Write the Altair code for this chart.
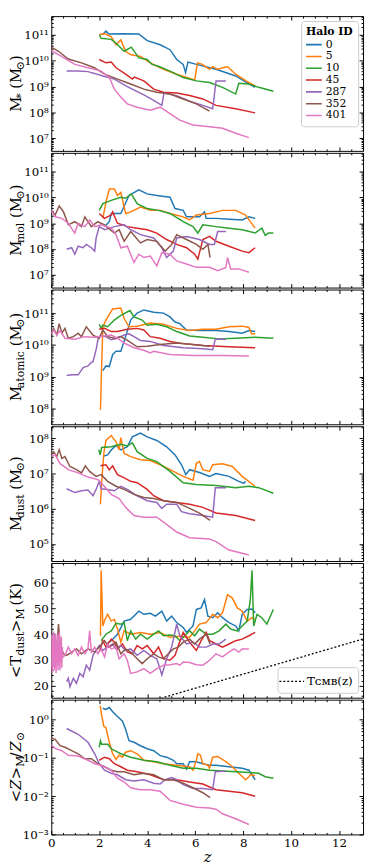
import altair as alt
import pandas as pd

HALOS = ["0", "5", "10", "45", "287", "352", "401"]
COLORS = ["#1f77b4", "#ff7f0e", "#2ca02c", "#d62728", "#9467bd", "#8c564b", "#e377c2"]

# ---- values (log10 for the log panels) ----
MSTAR_LOG = {
    "0": ([2.02, 2.15, 2.28, 2.4, 3.0, 3.65, 4.0, 4.54, 4.95, 5.23, 5.5, 5.6, 5.7, 6.05, 6.87, 7.69, 8.24, 8.5],
          [11.02, 11.03, 11.15, 11.04, 11.05, 11.04, 10.78, 10.62, 10.43, 10.05, 9.86, 9.54, 9.95, 9.86, 9.67, 9.41, 9.1, 8.97]),
    "5": ([2.0, 2.2, 2.5, 2.7, 2.9, 3.1, 3.3, 3.72, 4.13, 4.68, 5.23, 5.98, 6.1, 6.3, 6.6, 6.73, 6.94, 7.15, 7.35, 7.69, 8.1, 8.5],
          [11.0, 11.06, 10.94, 10.62, 10.81, 10.37, 10.24, 10.17, 9.92, 9.67, 9.48, 9.26, 9.92, 9.86, 9.67, 9.77, 9.67, 9.73, 9.77, 9.48, 9.23, 9.03]),
    "10": ([2.0, 2.08, 2.5, 2.7, 3.04, 3.34, 3.65, 4.0, 4.2, 4.47, 4.95, 5.5, 6.05, 6.6, 7.14, 7.69, 7.82, 8.24, 8.65, 9.26],
           [11.0, 10.87, 10.83, 10.68, 10.37, 10.53, 10.11, 10.05, 9.86, 9.79, 9.6, 9.35, 9.22, 9.16, 8.97, 8.71, 9.13, 9.1, 8.97, 8.82]),
    "45": ([2.0, 2.28, 2.5, 2.7, 3.1, 3.38, 3.47, 3.86, 4.27, 4.68, 5.23, 5.77, 6.32, 6.87, 7.69, 8.5],
           [10.05, 9.92, 9.95, 9.73, 9.48, 9.29, 9.37, 9.22, 8.9, 8.78, 8.75, 8.65, 8.52, 8.27, 8.14, 7.98]),
    "287": ([0.64, 1.12, 1.53, 1.8, 2.15, 2.63, 3.17, 3.86, 4.27, 4.61, 4.7, 5.23, 5.77, 6.32, 6.73, 6.87, 7.28],
            [9.6, 9.6, 9.58, 9.51, 9.41, 9.29, 9.0, 8.68, 8.46, 8.27, 8.75, 8.65, 8.43, 8.27, 8.14, 9.22, 9.22]),
    "352": ([0, 0.3, 0.71, 1.26, 1.8, 2.22, 2.76, 3.31, 3.86, 4.4, 4.95, 5.5, 6.05, 6.6],
            [10.53, 10.37, 10.07, 9.92, 9.73, 9.48, 9.29, 9.1, 8.9, 8.78, 8.71, 8.52, 8.33, 8.05]),
    "401": ([0, 0.3, 0.98, 1.53, 2.08, 2.42, 2.63, 2.9, 3.17, 3.58, 4.13, 4.54, 4.95, 5.36, 5.91, 6.6, 7.14, 7.69, 8.24],
            [10.4, 10.24, 9.86, 9.73, 9.6, 9.35, 8.9, 8.59, 8.33, 8.2, 8.08, 8.2, 7.95, 7.7, 7.51, 7.44, 7.38, 7.19, 7.02]),
}

MMOL_LOG = {
    "0": ([2.22, 2.42, 2.5, 2.9, 3.24, 3.65, 4.0, 4.4, 4.95, 5.16, 5.5, 5.64, 6.18, 6.39, 6.46, 6.87, 7.41, 7.96, 8.24, 8.5],
          [8.87, 9.06, 9.38, 9.38, 10.08, 10.3, 10.14, 10.08, 10.01, 9.57, 9.5, 9.25, 9.25, 9.44, 9.19, 9.19, 9.16, 9.13, 9.25, 9.19]),
    "5": ([2.15, 2.28, 2.42, 2.63, 2.76, 2.9, 3.1, 3.31, 3.72, 4.13, 4.54, 4.95, 5.5, 5.77, 6.05, 6.6, 7.14, 7.69, 8.1, 8.5],
          [9.19, 9.82, 10.33, 10.33, 10.08, 10.2, 9.38, 9.44, 9.63, 9.5, 9.5, 9.38, 9.25, 9.13, 9.32, 9.38, 9.5, 9.5, 9.32, 8.81]),
    "10": ([2.0, 2.15, 2.5, 2.9, 3.1, 3.34, 3.58, 4.0, 4.47, 4.95, 5.5, 5.91, 6.11, 6.32, 6.87, 7.41, 7.96, 8.5, 8.78, 8.92, 9.06, 9.26],
           [9.5, 9.76, 9.89, 10.01, 9.97, 10.14, 9.76, 9.57, 9.5, 9.38, 9.06, 8.87, 8.62, 8.94, 8.87, 8.81, 8.75, 8.62, 8.81, 8.53, 8.62, 8.62]),
    "45": ([2.0, 2.22, 2.5, 2.56, 2.76, 3.17, 3.58, 4.0, 4.4, 4.81, 5.23, 5.64, 5.98, 6.11, 6.32, 6.6, 6.87, 7.41, 7.96, 8.24, 8.5],
           [9.38, 9.19, 9.32, 9.44, 9.0, 8.87, 8.81, 8.75, 8.62, 8.37, 8.18, 8.05, 7.8, 7.61, 8.37, 8.49, 8.3, 8.11, 7.92, 7.86, 8.05]),
    "287": ([0.64, 0.85, 0.98, 1.12, 1.33, 1.46, 1.67, 1.81, 1.87, 2.0, 2.22, 2.63, 3.04, 3.31, 3.72, 4.27, 4.61, 4.81, 5.09, 5.23, 5.64, 6.18, 6.6, 6.8, 6.94, 7.28],
            [7.99, 8.05, 7.8, 8.11, 8.05, 8.18, 8.05, 7.92, 8.43, 8.87, 8.75, 8.87, 8.94, 8.75, 8.56, 8.43, 8.05, 7.67, 7.92, 8.43, 8.49, 8.37, 8.18, 8.18, 8.68, 8.68]),
    "352": ([0, 0.16, 0.33, 0.51, 0.71, 0.98, 1.26, 1.4, 1.67, 1.94, 2.22, 2.63, 2.83, 3.04, 3.31, 3.72, 4.0, 4.4, 4.75, 5.02, 5.23, 5.64, 6.05, 6.32, 6.53, 6.62],
            [9.5, 9.32, 9.67, 9.44, 8.94, 9.06, 8.87, 9.25, 8.87, 9.06, 8.94, 8.62, 8.75, 8.3, 8.68, 8.24, 8.37, 8.3, 7.92, 8.18, 8.56, 8.37, 8.18, 7.99, 8.18, 7.67]),
    "401": ([0, 0.16, 0.44, 0.71, 0.98, 1.12, 1.4, 1.6, 1.81, 2.08, 2.5, 2.7, 2.9, 3.17, 3.45, 3.65, 3.86, 4.13, 4.4, 4.61, 4.95, 5.23, 5.64, 6.05, 6.6, 6.94, 7.28, 7.35, 7.48, 7.82, 8.24],
            [9.5, 9.25, 9.19, 9.0, 8.62, 9.0, 8.87, 9.13, 8.87, 8.94, 8.81, 8.56, 8.05, 8.11, 7.48, 7.8, 7.67, 7.73, 7.35, 7.86, 7.8, 7.54, 7.42, 7.29, 7.29, 7.16, 7.29, 7.67, 7.23, 7.23, 7.1]),
}

MATOM_LOG = {
    "0": ([2.15, 2.28, 2.42, 2.56, 2.7, 2.9, 3.1, 3.31, 3.58, 3.86, 4.27, 4.68, 4.95, 5.16, 5.36, 5.64, 6.18, 6.87, 7.41, 7.96, 8.24, 8.5],
          [9.19, 9.34, 9.32, 9.7, 9.8, 9.8, 10.26, 10.78, 11.0, 11.1, 11.03, 11.0, 10.88, 10.72, 10.67, 10.47, 10.45, 10.45, 10.42, 10.37, 10.45, 10.42]),
    "5": ([2.05, 2.1, 2.15, 2.28, 2.56, 2.9, 3.04, 3.24, 3.58, 4.13, 4.68, 5.23, 5.77, 6.32, 6.87, 7.41, 7.96, 8.24, 8.35, 8.5],
          [7.96, 9.34, 10.57, 10.78, 11.13, 11.16, 10.83, 10.57, 10.59, 10.69, 10.65, 10.52, 10.45, 10.49, 10.49, 10.57, 10.59, 10.55, 10.35, 10.35]),
    "10": ([2.0, 2.08, 2.15, 2.35, 2.63, 2.9, 3.28, 3.45, 3.79, 4.0, 4.4, 4.81, 5.23, 5.77, 6.32, 7.0, 7.69, 8.5, 9.26],
           [10.65, 10.52, 10.62, 10.57, 10.78, 10.93, 11.08, 10.88, 10.78, 10.62, 10.65, 10.57, 10.42, 10.28, 10.24, 10.19, 10.21, 10.24, 10.21]),
    "45": ([2.0, 2.22, 2.5, 2.76, 3.17, 3.58, 3.86, 4.13, 4.54, 4.95, 5.5, 6.32, 7.41, 8.5],
           [10.49, 10.52, 10.42, 10.42, 10.49, 10.52, 10.47, 10.26, 10.21, 10.11, 10.04, 9.98, 9.94, 9.91]),
    "287": ([0.64, 0.85, 1.12, 1.33, 1.53, 1.67, 1.74, 1.87, 1.97, 2.08, 2.28, 2.5, 2.76, 3.04, 3.24, 3.45, 3.72, 4.13, 4.68, 5.5, 6.32, 6.73, 6.84, 7.28],
            [9.04, 9.06, 9.06, 9.29, 9.34, 9.45, 9.47, 9.85, 10.26, 10.28, 10.26, 10.16, 10.21, 10.31, 10.35, 10.26, 10.14, 10.11, 9.98, 9.91, 9.88, 9.85, 10.18, 10.18]),
    "352": ([0, 0.1, 0.23, 0.33, 0.44, 0.57, 0.71, 0.92, 1.12, 1.26, 1.46, 1.74, 2.0, 2.15, 2.35, 2.63, 2.9, 3.24, 3.58, 4.0, 4.54, 5.23, 5.91, 6.62],
            [10.31, 10.52, 10.31, 10.67, 10.37, 10.52, 10.21, 10.26, 10.37, 10.26, 10.57, 10.31, 10.21, 10.47, 10.26, 10.21, 10.26, 10.11, 9.94, 9.96, 10.01, 10.06, 10.01, 9.96]),
    "401": ([0, 0.1, 0.23, 0.37, 0.57, 0.98, 1.4, 1.81, 2.22, 2.5, 2.76, 3.04, 3.45, 3.86, 4.13, 4.27, 4.95, 5.91, 7.14, 8.24],
            [10.37, 10.47, 10.31, 10.45, 10.21, 10.18, 10.26, 10.24, 10.28, 10.31, 10.21, 10.06, 9.91, 9.83, 9.75, 9.8, 9.7, 9.67, 9.67, 9.65]),
}

MDUST_LOG = {
    "0": ([2.19, 2.35, 2.5, 2.7, 2.9, 3.17, 3.38, 3.72, 4.0, 4.4, 4.81, 5.16, 5.43, 5.61, 5.77, 6.18, 6.6, 6.87, 7.41, 7.82, 8.03, 8.1],
          [7.5, 7.53, 7.67, 7.8, 7.67, 7.76, 8.04, 8.15, 8.04, 7.94, 7.76, 7.53, 7.25, 6.97, 7.11, 7.03, 6.92, 7.0, 6.92, 6.78, 6.72, 6.78]),
    "5": ([2.05, 2.1, 2.19, 2.28, 2.5, 2.7, 2.83, 2.9, 3.04, 3.31, 3.72, 4.13, 4.54, 4.95, 5.5, 5.91, 6.05, 6.18, 6.32, 6.6, 6.73, 7.14, 7.55, 7.96, 8.5],
          [6.13, 6.74, 7.57, 7.94, 8.08, 7.9, 7.67, 8.02, 7.57, 7.48, 7.39, 7.37, 7.25, 7.11, 6.92, 6.81, 7.29, 7.34, 7.11, 7.06, 7.25, 7.28, 7.2, 6.92, 6.64]),
    "10": ([1.98, 2.04, 2.1, 2.5, 2.9, 3.17, 3.38, 3.58, 4.0, 4.4, 4.95, 5.5, 6.05, 6.87, 7.69, 8.24, 8.65, 9.26],
           [7.68, 7.53, 7.74, 7.76, 7.83, 7.78, 7.87, 7.62, 7.43, 7.34, 7.06, 6.74, 6.69, 6.66, 6.6, 6.64, 6.6, 6.44]),
    "45": ([2.05, 2.28, 2.42, 2.56, 2.76, 3.04, 3.31, 3.58, 4.0, 4.27, 4.68, 5.23, 5.77, 6.32, 6.87, 7.69, 8.5],
           [7.22, 7.25, 7.11, 7.22, 6.97, 6.88, 6.78, 6.74, 6.55, 6.37, 6.23, 6.18, 6.13, 6.04, 5.88, 5.81, 5.67]),
    "287": ([0.64, 0.98, 1.26, 1.53, 1.74, 1.87, 2.0, 2.08, 2.35, 2.63, 2.9, 3.17, 3.58, 4.0, 4.4, 4.61, 4.81, 5.23, 5.43, 5.77, 6.32, 6.73, 6.84, 7.28],
            [6.57, 6.46, 6.51, 6.53, 6.37, 6.55, 6.78, 6.57, 6.55, 6.51, 6.64, 6.55, 6.37, 6.23, 6.18, 6.01, 6.13, 6.13, 5.92, 5.86, 5.81, 5.76, 6.6, 6.6]),
    "352": ([0, 0.1, 0.23, 0.33, 0.44, 0.57, 0.78, 1.05, 1.26, 1.42, 1.6, 1.87, 2.08, 2.35, 2.7, 3.04, 3.45, 3.86, 4.27, 4.68, 5.23, 5.77, 6.18, 6.62],
            [7.57, 7.62, 7.48, 7.68, 7.43, 7.48, 7.2, 7.11, 7.02, 7.22, 7.06, 6.92, 6.97, 6.78, 6.64, 6.55, 6.41, 6.32, 6.29, 6.23, 6.18, 6.01, 5.88, 5.67]),
    "401": ([0, 0.16, 0.37, 0.71, 1.12, 1.53, 1.94, 2.15, 2.5, 2.83, 3.1, 3.45, 3.86, 4.4, 4.68, 5.23, 5.77, 6.6, 6.87, 7.41, 7.96, 8.24],
            [7.5, 7.53, 7.28, 7.11, 7.02, 6.9, 6.83, 6.69, 6.41, 6.29, 6.04, 5.81, 5.76, 5.76, 5.62, 5.34, 5.18, 5.14, 5.07, 4.83, 4.74, 4.69]),
}

TDUST = {
    "0": ([2.3, 2.5, 2.76, 3.04, 3.31, 3.65, 3.86, 4.13, 4.34, 4.61, 4.81, 5.02, 5.23, 5.5, 5.64, 5.91, 6.05, 6.25, 6.39, 6.53, 6.73, 6.94, 7.14, 7.41, 7.69, 7.82, 7.96, 8.17, 8.37, 8.5],
          [36.2, 37.5, 40.0, 45.1, 45.8, 48.9, 47.7, 48.1, 47.0, 48.9, 45.1, 47.0, 44.5, 42.6, 40.7, 43.2, 49.6, 50.2, 53.4, 47.0, 46.4, 48.3, 46.4, 44.5, 43.2, 41.3, 47.7, 49.6, 49.8, 48.3]),
    "5": ([2.05, 2.08, 2.15, 2.24, 2.35, 2.5, 2.63, 2.76, 2.9, 3.04, 3.31, 3.72, 4.13, 4.54, 4.95, 5.36, 5.77, 5.98, 6.18, 6.46, 6.73, 6.94, 7.14, 7.35, 7.55, 7.76, 7.96, 8.17, 8.37, 8.48],
          [39.4, 64.8, 43.2, 45.8, 47.7, 45.1, 45.8, 42.0, 36.9, 41.3, 40.0, 40.7, 40.0, 40.7, 38.8, 39.2, 38.8, 41.3, 43.9, 44.5, 47.7, 46.4, 48.3, 55.3, 54.0, 50.2, 48.9, 45.1, 46.4, 45.8]),
    "10": ([2.08, 2.28, 2.5, 2.7, 2.9, 3.04, 3.17, 3.31, 3.52, 3.72, 4.0, 4.27, 4.47, 4.68, 4.95, 5.16, 5.36, 5.57, 5.77, 5.98, 6.18, 6.46, 6.73, 7.0, 7.28, 7.48, 7.76, 7.96, 8.17, 8.3, 8.37, 8.44, 8.58, 8.78, 8.99, 9.26],
           [37.5, 40.0, 41.3, 44.2, 43.9, 44.5, 37.5, 41.3, 38.1, 40.0, 38.1, 40.0, 41.3, 39.4, 39.7, 39.4, 37.5, 39.4, 41.3, 39.4, 42.0, 40.0, 40.0, 41.3, 43.9, 42.0, 41.3, 43.2, 45.1, 53.4, 64.8, 43.2, 47.7, 46.4, 43.9, 49.6]),
    "45": ([2.0, 2.15, 2.28, 2.5, 2.63, 2.76, 2.97, 3.17, 3.38, 3.58, 3.79, 4.0, 4.27, 4.47, 4.68, 4.95, 5.16, 5.3, 5.5, 5.77, 6.05, 6.25, 6.46, 6.6, 6.87, 7.14, 7.41, 7.69, 7.96, 8.24, 8.5],
           [33.1, 37.5, 35.0, 38.1, 36.9, 34.3, 36.2, 33.1, 32.4, 35.6, 34.3, 35.6, 32.4, 35.0, 30.5, 29.9, 31.8, 35.6, 40.7, 36.9, 33.7, 37.5, 40.7, 37.5, 36.2, 35.0, 36.2, 37.5, 38.1, 39.4, 40.7]),
    "287": ([0.64, 0.71, 0.78, 0.92, 1.05, 1.19, 1.33, 1.46, 1.6, 1.74, 1.87, 2.0, 2.15, 2.35, 2.56, 2.7, 2.9, 3.1, 3.31, 3.58, 3.86, 4.13, 4.4, 4.61, 4.81, 5.02, 5.23, 5.36, 5.64, 5.91, 6.18, 6.46, 6.73, 7.0, 7.28],
            [21.6, 22.9, 19.7, 22.9, 21.0, 24.8, 23.5, 28.0, 26.1, 31.8, 33.7, 35.6, 33.7, 35.0, 36.2, 34.3, 35.6, 33.7, 34.3, 31.8, 33.7, 31.8, 30.5, 24.2, 30.5, 35.0, 43.9, 39.4, 36.2, 36.9, 35.0, 35.0, 36.2, 36.2, 38.1]),
    "352": ([0, 0.05, 0.14, 0.23, 0.3, 0.37, 0.51, 0.64, 0.85, 1.05, 1.26, 1.53, 1.81, 2.0, 2.22, 2.42, 2.7, 2.9, 3.1, 3.31, 3.58, 3.79, 4.0, 4.27, 4.47, 4.68, 4.88, 5.09, 5.3, 5.5, 5.77, 5.98, 6.18, 6.46, 6.62],
            [36.9, 30.5, 39.4, 33.7, 43.9, 35.6, 32.4, 31.8, 33.1, 34.3, 32.4, 34.3, 33.1, 35.0, 37.5, 35.0, 36.9, 32.4, 34.3, 33.1, 30.5, 28.6, 30.5, 32.4, 31.2, 30.5, 32.4, 34.3, 35.0, 36.9, 38.1, 36.2, 38.1, 40.0, 36.2]),
    "401": ([0, 0.02, 0.04, 0.06, 0.08, 0.1, 0.12, 0.14, 0.16, 0.18, 0.2, 0.22, 0.24, 0.26, 0.28, 0.3, 0.32, 0.34, 0.36, 0.38, 0.4, 0.42, 0.44, 0.46, 0.48,
             0.57, 0.71, 0.85, 0.98, 1.12, 1.26, 1.4, 1.53, 1.6, 1.67, 1.81, 1.94, 2.08, 2.22, 2.35, 2.5, 2.7, 2.83, 3.04, 3.17, 3.31, 3.58, 3.86, 4.13, 4.4, 4.68, 4.95, 5.23, 5.36, 5.5, 5.77, 6.05, 6.32, 6.6, 6.87, 7.14, 7.41, 7.62, 7.82, 7.96, 8.24],
            [27, 40, 25, 38, 28, 41, 26, 39, 27, 40, 25, 37, 29, 40, 26, 38, 28, 41, 26, 37, 29, 39, 27, 35, 31,
             31.8, 35.0, 32.4, 34.3, 31.8, 35.0, 32.4, 34.3, 41.3, 33.1, 35.0, 32.4, 34.3, 31.2, 36.2, 34.3, 35.0, 30.5, 32.4, 29.9, 24.8, 25.4, 26.7, 24.8, 26.7, 28.0, 28.2, 28.6, 28.0, 29.2, 29.0, 28.2, 28.0, 29.9, 32.4, 31.2, 33.1, 34.3, 33.1, 34.3, 34.3]),
}

ZMET_LOG = {
    "0": ([2.15, 2.28, 2.42, 2.56, 2.76, 2.97, 3.1, 3.24, 3.45, 3.72, 4.0, 4.27, 4.54, 4.81, 5.09, 5.23, 5.5, 5.64, 5.77, 6.05, 6.32, 6.6, 6.87, 7.41, 7.96, 8.24, 8.5],
          [0.3, 0.27, 0.32, 0.21, 0.085, -0.04, -0.25, -0.55, -0.59, -0.68, -0.76, -0.81, -0.94, -0.98, -1.06, -1.15, -1.15, -1.29, -1.1, -1.1, -1.15, -1.19, -1.19, -1.23, -1.27, -1.32, -1.57]),
    "5": ([2.04, 2.1, 2.19, 2.28, 2.42, 2.56, 2.7, 2.83, 2.97, 3.1, 3.31, 3.58, 3.86, 4.27, 4.68, 5.23, 5.77, 5.91, 6.05, 6.11, 6.21, 6.32, 6.53, 6.6, 6.73, 6.94, 7.2, 7.48, 7.82, 8.1, 8.24, 8.3, 8.5],
          [0.36, 0.13, -0.17, -0.21, -0.59, -0.89, -1.04, -0.93, -0.98, -0.85, -0.81, -0.89, -1.06, -1.1, -1.15, -1.19, -1.23, -1.32, -1.06, -0.89, -0.92, -1.15, -1.19, -1.27, -0.98, -0.96, -1.06, -1.19, -1.4, -1.57, -1.49, -1.44, -1.46]),
    "10": ([2.0, 2.05, 2.1, 2.35, 2.5, 2.9, 3.31, 3.86, 4.4, 4.95, 5.5, 6.05, 6.6, 7.14, 7.69, 8.24, 8.65, 8.92, 9.26],
           [-0.72, -0.55, -0.64, -0.64, -0.76, -0.89, -0.98, -1.06, -1.1, -1.19, -1.27, -1.27, -1.32, -1.34, -1.36, -1.38, -1.4, -1.49, -1.53]),
    "45": ([2.0, 2.22, 2.42, 2.63, 2.9, 3.17, 3.58, 4.13, 4.68, 5.23, 5.77, 6.32, 6.87, 7.41, 7.96, 8.5],
           [-1.06, -0.98, -1.02, -1.15, -1.23, -1.32, -1.36, -1.44, -1.57, -1.57, -1.63, -1.68, -1.83, -1.87, -1.91, -2.0]),
    "287": ([0.64, 1.12, 1.53, 1.81, 2.0, 2.22, 2.5, 2.76, 3.1, 3.45, 3.86, 4.27, 4.54, 4.75, 5.02, 5.23, 5.5, 5.91, 6.32, 6.73, 6.84, 7.28],
            [-0.23, -0.38, -0.59, -0.89, -1.15, -1.32, -1.4, -1.44, -1.57, -1.6, -1.57, -1.66, -1.68, -1.57, -1.51, -1.57, -1.7, -1.8, -1.8, -1.83, -1.36, -1.34]),
    "352": ([0, 0.16, 0.37, 0.57, 0.85, 1.12, 1.4, 1.67, 1.94, 2.22, 2.5, 2.76, 3.04, 3.45, 3.86, 4.27, 4.68, 5.09, 5.5, 5.91, 6.32, 6.62],
            [-0.47, -0.51, -0.68, -0.72, -0.81, -0.89, -1.02, -1.02, -1.15, -1.23, -1.32, -1.36, -1.36, -1.44, -1.4, -1.44, -1.57, -1.57, -1.66, -1.78, -1.91, -2.04]),
    "401": ([0, 0.16, 0.44, 0.71, 1.12, 1.53, 1.81, 2.08, 2.5, 2.76, 3.04, 3.31, 3.72, 4.13, 4.54, 4.95, 5.5, 6.05, 6.6, 6.87, 7.14, 7.69, 8.24],
            [-0.66, -0.75, -0.81, -0.93, -0.95, -1.06, -1.15, -1.19, -1.32, -1.53, -1.63, -1.78, -1.83, -1.83, -1.87, -2.11, -2.21, -2.29, -2.31, -2.34, -2.46, -2.59, -2.74]),
}

TCMB_Z = [0, 13]
TCMB_T = [2.725, 38.15]
TCMB_LABEL = "Tᴄᴍʙ(z)"

X_MAJOR = [0, 2, 4, 6, 8, 10, 12]
FONT = "DejaVu Serif"
W, H = 317, 137
NS, SS = 15, 11


def frame(d, log=True):
    rows = []
    for h in HALOS:
        zs, vs = d[h]
        for i, (z, v) in enumerate(zip(zs, vs)):
            rows.append({"z": z, "v": 10 ** v if log else v, "halo": h, "i": i})
    return pd.DataFrame(rows)


SUP = str.maketrans("-0123456789", "⁻⁰¹²³⁴⁵⁶⁷⁸⁹")


def log_expr(exps):
    parts = [f"abs(datum.value/{10.0 ** e!r} - 1) < 0.01 ? '10{str(e).translate(SUP)}'" for e in exps]
    return " : ".join(parts) + " : ''"


def log_minor(lo, hi):
    out = []
    for e in range(lo, hi + 1):
        for k in range(2, 10):
            out.append(k * 10.0 ** e)
    return out


CW = {'M': 0.87, '*': 0.5, ' ': 0.32, '(': 0.39, ')': 0.39, '⊙': 0.84, 'm': 0.95, 'o': 0.6, 'l': 0.32,
      'a': 0.6, 't': 0.4, 'i': 0.32, 'c': 0.56, 'd': 0.64, 'u': 0.64, 's': 0.51, 'T': 0.68, '<': 0.84,
      '>': 0.84, 'K': 0.77, 'Z': 0.72, '/': 0.4}


def tw(s, size):
    return sum(CW.get(c, 0.6) for c in s) * size


ONE = pd.DataFrame({"a": [0]})


def title_layers(pieces, x0=-31):
    sizes = [SS if k == "s" else NS for _, k in pieces]
    total = sum(tw(t, s) for (t, _), s in zip(pieces, sizes))
    y = H / 2 + total / 2
    out = []
    for (t, k), s in zip(pieces, sizes):
        lead = len(t) - len(t.lstrip(" "))
        txt = t.lstrip(" ")
        yy = y - lead * CW[" "] * s
        out.append(alt.Chart(ONE).mark_text(
            text=txt, angle=270, align="left", baseline="alphabetic", font=FONT, fontSize=s,
            fontStyle="italic" if k == "i" else "normal", color="black"
        ).encode(x=alt.value(x0 + (3 if k == "s" else 0)), y=alt.value(yy)))
        y -= tw(t, s)
    return out


def ax(orient, values, size, labels=False, expr=None, title=None):
    kw = dict(orient=orient, values=values, tickSize=size, offset=-size, domain=False, grid=False,
              labels=labels, title=title, tickColor="black", tickWidth=1)
    if labels:
        kw.update(labelPadding=3, labelFont=FONT, labelFontSize=12, labelColor="black", labelFlush=False)
    if expr:
        kw["labelExpr"] = expr
    if title:
        kw.update(titleFont=FONT, titleFontSize=15, titleFontStyle="italic", titleFontWeight="normal", titlePadding=2)
    return alt.Axis(**kw)


def panel(df, ydomain, ylog, ymajor, yminor, expr, pieces, first=False, last=False, extra=None):
    xs = alt.Scale(domain=[0, 13], nice=False, zero=False)
    ys = alt.Scale(type="log", domain=ydomain, nice=False) if ylog else alt.Scale(domain=ydomain, nice=False, zero=False)
    x_minor = [v / 2 for v in range(0, 27) if v % 4 != 0]
    legend = None
    if first:
        legend = alt.Legend(title="Halo ID", orient="top-right", offset=5, padding=5, strokeColor="#cccccc",
                            fillColor="white", cornerRadius=3, symbolType="M-2,0H2", symbolSize=100,
                            symbolStrokeWidth=1.6, labelFont=FONT, labelFontSize=11, labelOffset=8,
                            titleFont=FONT, titleFontSize=11, titleFontWeight="bold", titlePadding=2,
                            rowPadding=0, clipHeight=12, labelColor="black", titleColor="black")
    base = alt.Chart(df)
    lines = base.mark_line(strokeWidth=1.5, clip=True).encode(
        x=alt.X("z:Q", scale=xs, axis=ax("bottom", X_MAJOR, 4, labels=last, title="z" if last else None)),
        y=alt.Y("v:Q", scale=ys, axis=ax("left", ymajor, 4, labels=True, expr=expr)),
        color=alt.Color("halo:N", scale=alt.Scale(domain=HALOS, range=COLORS), legend=legend),
        order=alt.Order("i:Q"),
    )

    def ghost(xa, ya):
        return base.mark_line(strokeOpacity=0, clip=True).encode(
            x=alt.X("z:Q", scale=xs, axis=xa), y=alt.Y("v:Q", scale=ys, axis=ya))

    layers = [lines,
              ghost(ax("top", X_MAJOR, 4), ax("right", ymajor, 4)),
              ghost(ax("bottom", x_minor, 2), ax("left", yminor, 2)),
              ghost(ax("top", x_minor, 2), ax("right", yminor, 2))]
    if extra is not None:
        layers.append(extra)
    layers += title_layers(pieces)
    return alt.layer(*layers).resolve_axis(x="independent", y="independent").properties(width=W, height=H)


tcmb_df = pd.DataFrame({"z": TCMB_Z, "v": TCMB_T, "lab": [TCMB_LABEL] * 2})
tcmb = alt.Chart(tcmb_df).mark_line(clip=True, color="black", strokeWidth=1.3).encode(
    x=alt.X("z:Q", axis=None), y=alt.Y("v:Q", axis=None),
    strokeDash=alt.StrokeDash("lab:N", scale=alt.Scale(domain=[TCMB_LABEL], range=[[2, 2]]),
                              legend=alt.Legend(title=None, orient="bottom-right", offset=5, padding=5,
                                                strokeColor="#cccccc", fillColor="white", cornerRadius=3,
                                                symbolType="M-1.5,0H1.5", symbolSize=280, symbolStrokeColor="black",
                                                symbolStrokeWidth=1.3, labelFont=FONT, labelFontSize=12,
                                                labelOffset=6, labelColor="black")),
)

N, S, I = "n", "s", "i"
p1 = panel(frame(MSTAR_LOG), [3.2e6, 5.4e11], True, [1e7, 1e8, 1e9, 1e10, 1e11], log_minor(6, 11),
           log_expr([7, 8, 9, 10, 11]), [("M", N), ("*", S), (" (M", N), ("⊙", S), (")", N)], first=True)
p2 = panel(frame(MMOL_LOG), [3.2e6, 5.4e11], True, [1e7, 1e8, 1e9, 1e10, 1e11], log_minor(6, 11),
           log_expr([7, 8, 9, 10, 11]), [("M", N), ("mol", S), (" (M", N), ("⊙", S), (")", N)])
p3 = panel(frame(MATOM_LOG), [3.2e7, 5.5e11], True, [1e8, 1e9, 1e10, 1e11], log_minor(7, 11),
           log_expr([8, 9, 10, 11]), [("M", N), ("atomic", S), (" (M", N), ("⊙", S), (")", N)])
p4 = panel(frame(MDUST_LOG), [3.3e4, 2.2e8], True, [1e5, 1e6, 1e7, 1e8], log_minor(4, 8),
           log_expr([5, 6, 7, 8]), [("M", N), ("dust", S), (" (M", N), ("⊙", S), (")", N)])
p5 = panel(frame(TDUST, log=False), [15.4, 67.6], False, [20, 30, 40, 50, 60],
           [v for v in range(16, 68, 2) if v % 10 != 0], None,
           [("<T", N), ("dust", S), (">", N), ("M", S), (" (K)", N)], extra=tcmb)
p6 = panel(frame(ZMET_LOG), [1e-3, 3.35], True, [1e-3, 1e-2, 1e-1, 1e0], log_minor(-3, 0),
           log_expr([-3, -2, -1, 0]), [("<", N), ("Z", I), (">", N), ("M", S), ("/", N), ("Z", I), ("⊙", S)],
           last=True)

chart = alt.vconcat(p1, p2, p3, p4, p5, p6, spacing=0).resolve_scale(
    x="independent", y="independent", color="independent", strokeDash="independent"
).properties(
    padding={"left": 0, "top": 0, "right": 2, "bottom": 2}
).configure_view(stroke="black", strokeWidth=1).configure_axis(labelFont=FONT, titleFont=FONT)

chart.save("out.html", embed_options={"renderer": "svg", "actions": False})
